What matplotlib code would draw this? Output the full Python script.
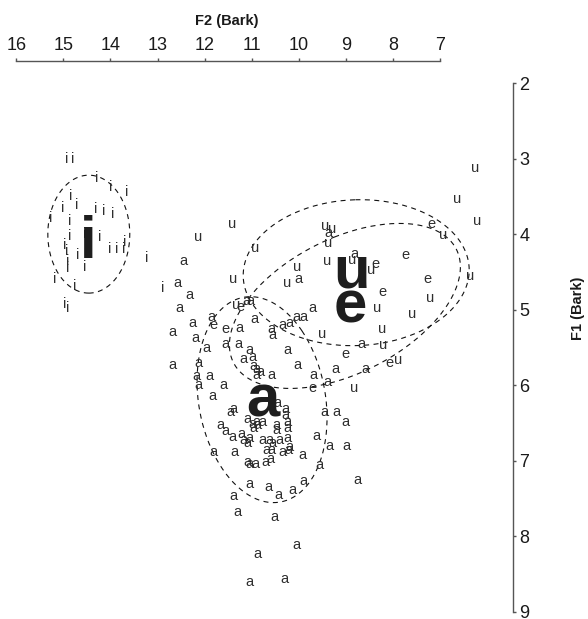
import numpy as np
import matplotlib
matplotlib.use("Agg")
import matplotlib.pyplot as plt

plt.rcParams['font.family'] = ['Liberation Sans', 'DejaVu Sans']

# ---- individual tokens (F2, F1 in Bark) ----
i_F2 = [14.94, 14.80, 14.29, 13.99, 13.65, 14.84, 15.26, 15.01, 14.71, 14.31, 14.14,
        13.95, 14.86, 14.86, 14.54, 14.22, 14.97, 14.92, 14.01, 13.86, 13.71, 13.69,
        14.69, 14.90, 14.90, 14.54, 15.18, 14.77, 14.97, 14.90, 13.22, 12.90]
i_F1 = [2.98, 2.98, 3.24, 3.35, 3.42, 3.47, 3.76, 3.63, 3.60, 3.65, 3.67,
        3.72, 3.80, 4.00, 3.98, 4.02, 4.12, 4.20, 4.18, 4.18, 4.18, 4.09,
        4.25, 4.34, 4.43, 4.42, 4.58, 4.67, 4.90, 4.96, 4.30, 4.69]

u_F2 = [11.42, 12.14, 10.93, 9.44, 9.29, 9.38, 9.40, 11.40, 10.04, 10.25, 11.33, 9.51,
        8.87, 8.47, 6.64, 6.21, 6.26, 6.94, 6.36, 7.21, 8.34, 7.60, 8.23, 8.21, 7.89, 8.83]
u_F1 = [3.84, 4.02, 4.17, 3.87, 3.91, 4.10, 4.33, 4.57, 4.42, 4.63, 4.92, 5.30,
        4.32, 4.45, 3.52, 3.80, 3.11, 3.99, 4.54, 4.82, 4.96, 5.04, 5.24, 5.45, 5.64, 6.01]

e_F2 = [11.23, 11.82, 11.55, 7.74, 8.38, 7.19, 7.26, 8.23, 9.00, 8.08, 9.70]
e_F1 = [4.95, 5.18, 5.23, 4.26, 4.38, 3.84, 4.58, 4.74, 5.56, 5.69, 6.02]

a_F2 = [12.44, 12.57, 12.33, 12.54, 12.25, 11.86, 12.69, 12.20, 11.97, 12.69, 12.14,
        12.18, 11.89, 12.14, 11.84, 11.61, 10.00, 9.38, 8.81, 11.12, 11.02, 10.95,
        9.70, 11.25, 10.57, 10.55, 10.34, 10.19, 10.06, 9.91, 11.55, 11.29, 11.04,
        10.99, 10.25, 11.18, 10.97, 10.89, 10.82, 10.89, 10.59, 10.02, 9.68, 9.23,
        8.59, 8.66, 9.40, 11.46, 11.38, 10.29, 10.29, 10.46, 9.46, 9.19, 9.00,
        11.67, 11.55, 11.40, 11.10, 10.99, 10.89, 10.78, 10.97, 10.87, 10.48, 10.48,
        10.25, 10.25, 11.21, 11.18, 11.04, 11.10, 10.78, 10.63, 10.55, 10.40, 10.25,
        10.57, 10.68, 9.63, 11.82, 11.36, 10.34, 10.23, 10.19, 9.93, 9.34, 8.98,
        11.10, 11.04, 10.91, 10.70, 10.61, 9.57, 8.76, 11.04, 10.65, 10.44, 10.14,
        9.91, 11.38, 11.31, 10.51, 10.04, 10.87, 11.04, 10.31]
a_F1 = [4.34, 4.63, 4.78, 4.96, 5.15, 5.07, 5.27, 5.36, 5.49, 5.71, 5.68,
        5.86, 5.86, 5.97, 6.12, 5.97, 4.57, 3.97, 4.24, 4.87, 4.87, 5.10,
        4.96, 5.22, 5.23, 5.31, 5.18, 5.16, 5.08, 5.07, 5.43, 5.43, 5.51,
        5.60, 5.51, 5.63, 5.72, 5.76, 5.80, 5.85, 5.85, 5.71, 5.85, 5.77,
        5.77, 5.44, 5.94, 6.33, 6.29, 6.30, 6.37, 6.21, 6.34, 6.33, 6.46,
        6.50, 6.59, 6.66, 6.43, 6.49, 6.46, 6.46, 6.54, 6.51, 6.50, 6.57,
        6.46, 6.55, 6.62, 6.70, 6.68, 6.75, 6.70, 6.70, 6.75, 6.70, 6.68,
        6.83, 6.83, 6.65, 6.86, 6.86, 6.86, 6.84, 6.80, 6.90, 6.78, 6.79,
        6.99, 7.02, 7.02, 6.99, 6.95, 7.03, 7.23, 7.29, 7.32, 7.43, 7.36,
        7.25, 7.44, 7.66, 7.72, 8.09, 8.21, 8.58, 8.54]

# ---- vowel means (big labels) ----
mean_labels = ['i', 'a', 'e', 'u']
mean_F2 = [14.48, 10.76, 8.91, 8.87]
mean_F1 = [4.03, 6.13, 4.89, 4.42]

# ---- ellipses (i, a, e, u): centre and covariance (F2, F1) ----
ell_F2 = [14.46, 10.78, 9.02, 8.78]
ell_F1 = [4.00, 6.19, 4.95, 4.51]
ell_varF2 = [0.758, 1.906, 6.018, 5.761]
ell_varF1 = [0.609, 1.856, 1.192, 0.933]
ell_cov = [0.0, -0.333, 1.265, 0.084]

f2_ticks = [16, 15, 14, 13, 12, 11, 10, 9, 8, 7]
f1_ticks = [2, 3, 4, 5, 6, 7, 8, 9]

fig = plt.figure(figsize=(5.88, 6.19), dpi=100)
ax = fig.add_axes([16.3 / 588, 7 / 619, 423.7 / 588, 529 / 619])
ax.set_xlim(16, 7)
ax.set_ylim(9, 2)

small_color = '#2e2e2e'
tok_kw = dict(ha='center', va='center_baseline', fontsize=10.5,
              color=small_color, clip_on=False)
for lab, xs, ys in [('i', i_F2, i_F1), ('u', u_F2, u_F1),
                    ('e', e_F2, e_F1), ('a', a_F2, a_F1)]:
    for x, y in zip(xs, ys):
        ax.text(x, y, lab, **tok_kw)

t = np.linspace(0, 2 * np.pi, 300)
for cx, cy, vx, vy, cxy in zip(ell_F2, ell_F1, ell_varF2, ell_varF1, ell_cov):
    S = np.array([[vx, cxy], [cxy, vy]])
    w, V = np.linalg.eigh(S)
    L = V * np.sqrt(w)
    pts = L @ np.vstack([np.cos(t), np.sin(t)])
    ax.plot(cx + pts[0], cy + pts[1], color='#111111', lw=0.8,
            ls=(0, (4.5, 4.0)), clip_on=False)

for lab, x, y in zip(mean_labels, mean_F2, mean_F1):
    ax.text(x, y, lab, ha='center', va='center_baseline', fontsize=43,
            fontweight='bold', color='#1e1e1e', clip_on=False)

# axes styling
for s in ['left', 'bottom']:
    ax.spines[s].set_visible(False)
ax.spines['top'].set_position(('outward', 15.8))
ax.spines['right'].set_position(('outward', 52.6))
for s in ['top', 'right']:
    ax.spines[s].set_color('#555555')
    ax.spines[s].set_linewidth(1.0)

ax.xaxis.set_ticks_position('top')
ax.xaxis.set_label_position('top')
ax.yaxis.set_ticks_position('right')
ax.set_xticks(f2_ticks)
ax.set_xticklabels([str(v) for v in f2_ticks])
ax.set_yticks(f1_ticks)
ax.set_yticklabels([str(v) for v in f1_ticks])
ax.tick_params(axis='x', direction='out', length=2.5, width=1.0, color='#555555',
               labelsize=13, pad=2.8, labelcolor='#1a1a1a')
ax.tick_params(axis='y', direction='out', length=2.5, width=1.0, color='#555555',
               labelsize=13, pad=2.0, labelcolor='#1a1a1a')
ax.patch.set_visible(False)

fig.text(227 / 588, 1 - 21 / 619, 'F2 (Bark)', ha='center', va='center',
         fontsize=10.5, fontweight='bold', color='#1a1a1a')
fig.text(578 / 588, 1 - 308 / 619, 'F1 (Bark)', ha='center', va='center',
         rotation=90, fontsize=10.5, fontweight='bold', color='#1a1a1a')

fig.savefig('out.png', dpi=100, facecolor='white')
